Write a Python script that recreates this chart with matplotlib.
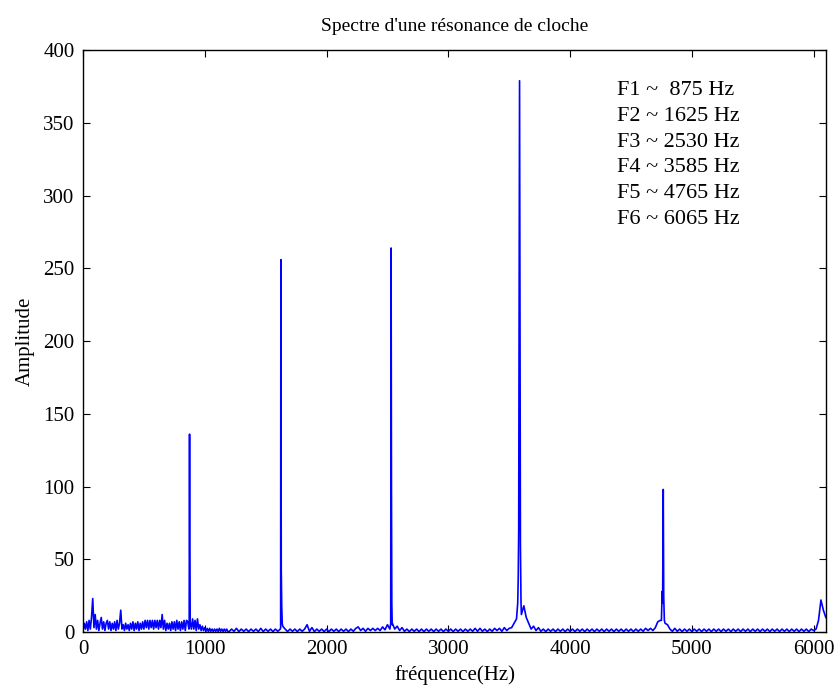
import matplotlib
matplotlib.use("Agg")
import matplotlib.pyplot as plt
import numpy as np

matplotlib.rcParams.update({
    "font.family": ["Liberation Serif", "DejaVu Serif"],
    "font.size": 15,
    "xtick.direction": "in",
    "ytick.direction": "in",
    "xtick.top": True,
    "ytick.right": True,
    "axes.linewidth": 1.0,
})

# ── Data ─────────────────────────────────────────────────────────────────

# low-frequency background, 0..1190 Hz every 10 Hz
low_freq = np.arange(0, 1200, 10)
low_amp = [
    1, 6, 2, 7, 1, 8, 2, 10, 23, 3,
    12, 2, 8, 1, 6, 10, 2, 7, 1, 6,
    8, 2, 7, 1, 6, 2, 7, 1, 8, 2,
    6, 15, 2, 5, 1, 6, 2, 5, 1, 6,
    2, 7, 1, 6, 2, 7, 1, 6, 2, 7,
    2, 8, 3, 8, 2, 8, 3, 8, 2, 8,
    3, 8, 2, 8, 3, 12, 2, 8, 1, 6,
    2, 6, 1, 7, 2, 7, 1, 8, 2, 7,
    1, 7, 2, 8, 1, 8, 7, 2, 9, 2,
    9, 2, 8, 1, 9, 2, 5, 1, 4, 1,
    3, 0.5, 2.5, 0.3, 2.5, 0.5, 2, 0.3, 2, 0.5,
    2, 0.3, 2.5, 0.5, 2, 0.3, 2, 0.5, 2, 0.3,
]

# rest of the band, 1200..6100 Hz every 20 Hz
high_freq = np.arange(1200, 6101, 20)
high_amp = [
    0.3, 2, 0.5, 2.5, 0.3, 2, 0.5, 2, 0.3, 2,
    0.5, 2, 0.3, 2.5, 0.3, 2, 0.5, 2, 0.3, 2,
    0.5, 2, 4, 2, 0.3, 2, 0.5, 2, 0.3, 2,
    0.5, 2, 5, 0.5, 3, 0.3, 2, 0.5, 2, 0.3,
    2, 0.3, 2, 0.5, 2, 0.3, 2, 0.5, 2, 0.3,
    2, 0.5, 2.5, 3.5, 1, 2.5, 0.5, 2.5, 1, 2.5,
    1, 2.5, 1, 3.5, 1.5, 5, 2, 6, 2, 4,
    1, 3, 0.5, 2, 0.3, 2, 0.5, 2, 0.3, 2,
    0.3, 2, 0.5, 2, 0.3, 2, 0.5, 2, 0.3, 2,
    0.5, 2, 0.3, 2, 0.5, 2, 0.3, 2, 0.5, 2,
    0.5, 2.5, 0.5, 2.5, 0.5, 2, 0.3, 2, 0.5, 2.5,
    1, 2.5, 0.5, 3, 1, 2.5, 3, 6, 9, 12,
    12, 18, 10, 6, 2, 4, 1, 3, 0.5, 2,
    0.3, 2, 0.5, 2, 0.3, 2, 0.5, 2, 0.3, 2,
    0.5, 2, 0.3, 2, 0.5, 2, 0.3, 2, 0.5, 2,
    0.3, 2, 0.5, 2, 0.3, 2, 0.5, 2, 0.3, 2,
    0.5, 2, 0.3, 2, 0.5, 2, 0.3, 2, 0.5, 2,
    0.5, 2.5, 1, 2.5, 1, 3, 7, 8, 7, 6,
    5, 2, 0.5, 2.5, 0.5, 2, 0.3, 2, 0.5, 2,
    0.3, 2, 0.5, 2, 0.3, 2, 0.5, 2, 0.3, 2,
    0.5, 2, 0.3, 2, 0.5, 2, 0.3, 2, 0.5, 2,
    0.3, 2, 0.5, 2, 0.3, 2, 0.5, 2, 0.3, 2,
    0.5, 2, 0.3, 2, 0.5, 2, 0.3, 2, 0.5, 2,
    0.3, 2, 0.5, 2, 0.3, 2, 0.5, 2, 0.3, 2,
    1, 2, 8, 22, 15, 10,
]

# resonance peaks (frequency, amplitude) points
peak_f1 = [(872, 6), (875, 136), (877, 55), (880, 7)]
peak_f2 = [(1623, 3), (1625, 256), (1628, 43), (1632, 18), (1636, 6)]
peak_f3 = [(2527, 6), (2530, 264), (2533, 102), (2536, 20), (2539, 5)]
peak_f4 = [(3570, 20), (3574, 37), (3578, 70), (3585, 379), (3588, 250),
           (3592, 60), (3597, 20)]
peak_f5 = [(4750, 8), (4756, 28), (4760, 20), (4765, 98), (4769, 24),
           (4774, 8)]
peaks = [peak_f1, peak_f2, peak_f3, peak_f4, peak_f5]

labels = ["F1 ~  875 Hz", "F2 ~ 1625 Hz", "F3 ~ 2530 Hz",
          "F4 ~ 3585 Hz", "F5 ~ 4765 Hz", "F6 ~ 6065 Hz"]


# ── Assemble spectrum ────────────────────────────────────────────────────

freq = np.concatenate([low_freq, high_freq]).astype(float)
amp = np.concatenate([low_amp, high_amp]).astype(float)
keep = np.ones(len(freq), dtype=bool)
for pk in peaks:
    fs = [p[0] for p in pk]
    keep &= ~((freq >= min(fs)) & (freq <= max(fs)))
freq, amp = freq[keep], amp[keep]
pf = np.array([p[0] for pk in peaks for p in pk], dtype=float)
pa = np.array([p[1] for pk in peaks for p in pk], dtype=float)
freq = np.concatenate([freq, pf])
amp = np.concatenate([amp, pa])
order = np.argsort(freq)
freq, amp = freq[order], amp[order]

# ── Plot ─────────────────────────────────────────────────────────────────

fig = plt.figure(figsize=(8.35, 6.88), dpi=100)
ax = fig.add_axes([0.0994, 0.0814, 0.8896, 0.8456])
ax.plot(freq, amp, color="#0000ff", linewidth=1.2)

ax.set_xlim(0, 6100)
ax.set_ylim(0, 400)
ax.set_xticks(np.arange(0, 6001, 1000))
ax.set_yticks(np.arange(0, 401, 50))
ax.tick_params(length=5, width=0.8, pad=6)

ax.set_title("Spectre d'une résonance de cloche", fontsize=14, pad=14)
ax.set_xlabel("fréquence(Hz)", labelpad=4)
ax.set_ylabel("Amplitude", labelpad=6)

for i, lab in enumerate(labels):
    ax.text(0.719, 0.947 - i * 0.0443, lab, transform=ax.transAxes,
            ha="left", va="top", fontsize=16)

fig.savefig("out.png", dpi=100)
